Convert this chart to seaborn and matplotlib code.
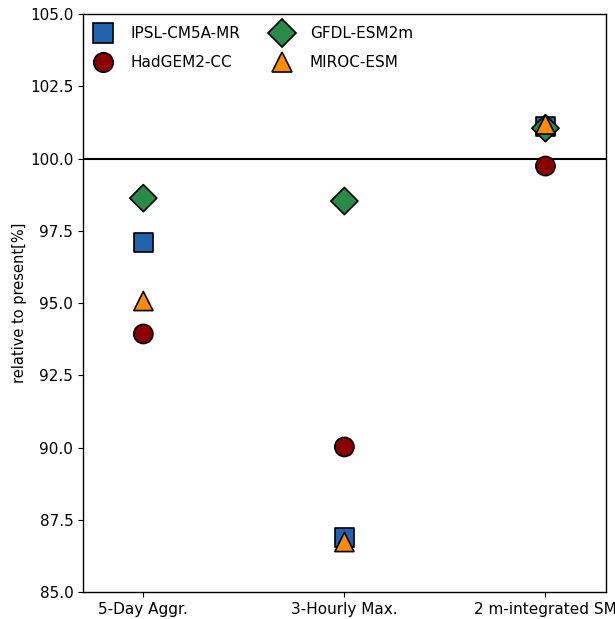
import matplotlib
matplotlib.use("Agg")
import matplotlib.pyplot as plt
import seaborn as sns
import pandas as pd

categories = ["5-Day Aggr.", "3-Hourly Max.", "2 m-integrated SM"]
models = ["IPSL-CM5A-MR", "HadGEM2-CC", "GFDL-ESM2m", "MIROC-ESM"]
ipsl = [97.08, 86.9, 101.12]
hadgem = [93.93, 90.02, 99.74]
gfdl = [98.63, 98.53, 101.05]
miroc = [95.07, 86.73, 101.18]

colors = {"IPSL-CM5A-MR": "#2262ae", "HadGEM2-CC": "#8b0000",
          "GFDL-ESM2m": "#2a8a47", "MIROC-ESM": "#ff8c00"}
markers = {"IPSL-CM5A-MR": "s", "HadGEM2-CC": "o",
           "GFDL-ESM2m": "D", "MIROC-ESM": "^"}

rows = []
for m, vals in zip(models, [ipsl, hadgem, gfdl, miroc]):
    for c, v in zip(categories, vals):
        rows.append({"model": m, "category": c, "value": v})
df = pd.DataFrame(rows)

sns.set_style("ticks")
plt.rcParams['font.family'] = ['DejaVu Sans']
plt.rcParams['text.color'] = 'black'
plt.rcParams['axes.labelcolor'] = 'black'

fig = plt.figure(figsize=(6.15, 6.19), dpi=100)
ax = fig.add_axes([0.135, 0.0436, 0.85, 0.9337])

ax.axhline(100, color="black", lw=1.5, zorder=1)

sns.scatterplot(data=df, x="category", y="value", hue="model", style="model",
                palette=colors, markers=markers, s=190, edgecolor="black",
                linewidth=1.2, ax=ax, zorder=3)

ax.set_xlim(-0.3, 2.3)
ax.set_ylim(85, 105)
ax.set_yticks([85, 87.5, 90, 92.5, 95, 97.5, 100, 102.5, 105])
ax.set_yticklabels(["85.0", "87.5", "90.0", "92.5", "95.0", "97.5", "100.0", "102.5", "105.0"])
ax.set_xlabel("")
ax.set_ylabel("relative to present[%]", fontsize=10.5, color="black", labelpad=2)
for sp in ax.spines.values():
    sp.set_color("black")
    sp.set_linewidth(1.0)
ax.tick_params(colors="black", labelsize=11)

h, l = ax.get_legend_handles_labels()
for hh in h:
    try:
        hh.set_markersize(14)
        hh.set_markeredgecolor("black")
        hh.set_markeredgewidth(1.2)
    except Exception:
        pass
leg = ax.legend(h, l, ncol=2, frameon=False, loc="upper left", fontsize=11,
                handlelength=1.0, handletextpad=1.3, columnspacing=2.25,
                borderaxespad=0.4, borderpad=0.4, labelspacing=0.9)
for t in leg.get_texts():
    t.set_color("black")

fig.savefig("out.png", dpi=100)
